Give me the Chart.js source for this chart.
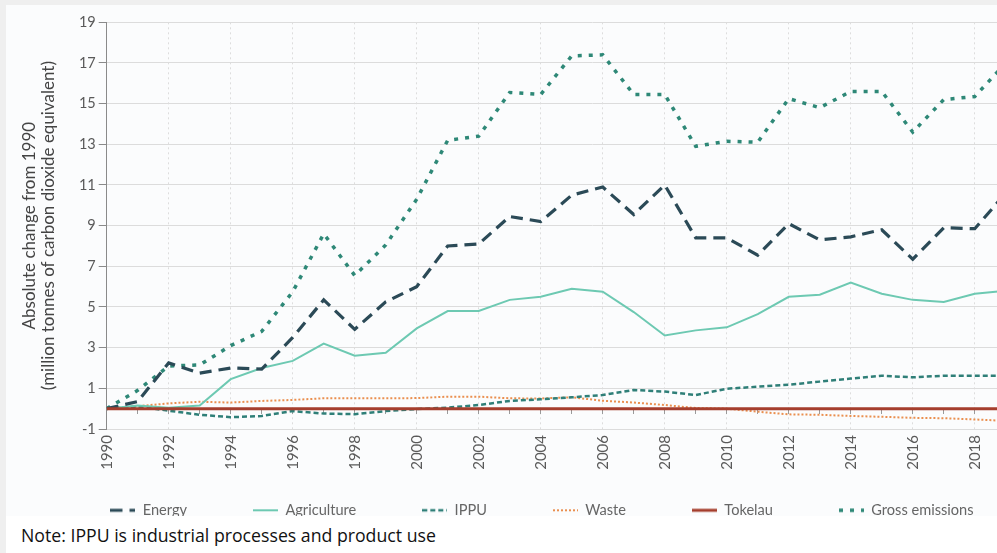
<!DOCTYPE html>
<html>
<head>
<meta charset="utf-8">
<script src="https://cdn.jsdelivr.net/npm/chart.js@4.4.1/dist/chart.umd.min.js"></script>
<style>
html,body{margin:0;padding:0;width:997px;height:553px;overflow:hidden;background:#ffffff;}
#frameTop{position:absolute;left:0;top:0;width:997px;height:5px;background:#efefef;}
#frameLeft{position:absolute;left:0;top:0;width:6px;height:553px;background:#efefef;}
#panel{position:absolute;left:6px;top:5px;width:991px;height:511px;background:#fbfcfd;overflow:hidden;}
#chart{position:absolute;left:0;top:0;}
#note{position:absolute;left:21px;top:524px;font-family:"Open Sans";font-size:17.7px;line-height:23px;color:#111;white-space:nowrap;}
</style>
</head>
<body>
<div id="frameTop"></div>
<div id="frameLeft"></div>
<div id="panel"><canvas id="chart" width="1072" height="565"></canvas></div>
<div id="note">Note: IPPU is industrial processes and product use</div>
<script>
// Years (x categories)
const years = [1990,1991,1992,1993,1994,1995,1996,1997,1998,1999,2000,2001,2002,2003,2004,2005,2006,2007,2008,2009,2010,2011,2012,2013,2014,2015,2016,2017,2018,2019];

// Series values: absolute change from 1990 (Mt CO2-e)
const energy      = [0, 0.35, 2.25, 1.75, 2.0, 1.95, 3.5, 5.35, 3.9, 5.25, 6.0, 8.0, 8.1, 9.45, 9.2, 10.5, 10.9, 9.55, 11.0, 8.4, 8.4, 7.55, 9.1, 8.3, 8.45, 8.8, 7.35, 8.9, 8.85, 10.6];
const agriculture = [0, 0.15, 0.05, 0.15, 1.45, 2.0, 2.35, 3.2, 2.6, 2.75, 3.95, 4.8, 4.8, 5.35, 5.5, 5.9, 5.75, 4.75, 3.6, 3.85, 4.0, 4.65, 5.5, 5.6, 6.2, 5.65, 5.35, 5.25, 5.65, 5.8];
const ippu        = [0, 0.1, -0.1, -0.3, -0.42, -0.36, -0.12, -0.24, -0.27, -0.12, -0.02, 0.05, 0.18, 0.38, 0.46, 0.56, 0.67, 0.92, 0.84, 0.67, 0.98, 1.08, 1.18, 1.33, 1.48, 1.62, 1.54, 1.62, 1.62, 1.62];
const waste       = [0, 0.12, 0.26, 0.34, 0.3, 0.38, 0.43, 0.51, 0.51, 0.51, 0.52, 0.59, 0.59, 0.51, 0.5, 0.56, 0.39, 0.3, 0.18, 0.03, 0.0, -0.15, -0.28, -0.3, -0.36, -0.4, -0.45, -0.47, -0.53, -0.6];
const tokelau     = [0, 0, 0, 0, 0, 0, 0, 0, 0, 0, 0, 0, 0, 0, 0, 0, 0, 0, 0, 0, 0, 0, 0, 0, 0, 0, 0, 0, 0, 0];
const gross       = [0, 0.9, 2.1, 2.15, 3.1, 3.8, 5.75, 8.6, 6.55, 8.05, 10.3, 13.2, 13.4, 15.55, 15.45, 17.35, 17.4, 15.45, 15.45, 12.9, 13.15, 13.1, 15.25, 14.8, 15.6, 15.6, 13.6, 15.2, 15.35, 17.0];

// Axis tick settings
const yMin = -1, yMax = 19, yStep = 2;
const xMin = 1990, xStep = 2;
const yTitle = ['Absolute change from 1990', '(million tonnes of carbon dioxide equivalent)'];

// Layout (canvas is wider than the visible panel; the reference is cropped on the right)
const xMax = 2021.33;
const legendItemGap = 74; // px from plot bottom to legend row top

Chart.defaults.font.family = 'Lato';

// Small legend swatch drawn with the same stroke style as the series line
function swatch(color, width, dash) {
  const c = document.createElement('canvas');
  c.width = 25; c.height = 8;
  const g = c.getContext('2d');
  g.strokeStyle = color; g.lineWidth = width; g.setLineDash(dash || []);
  g.beginPath(); g.moveTo(0, 4); g.lineTo(25, 4); g.stroke();
  return c;
}

const pts = (vals) => vals.map((v, i) => ({x: years[i], y: v}));
const makeDs = (label, vals, style) => Object.assign({
  label: label, data: pts(vals), fill: false, tension: 0,
  pointRadius: 0, pointHoverRadius: 0,
  pointStyle: swatch(style.borderColor, style.borderWidth, style.borderDash)
}, style);

const datasets = [
  makeDs('Energy', energy, {borderColor: '#2b4a57', borderWidth: 3.2, borderDash: [12, 7]}),
  makeDs('Agriculture', agriculture, {borderColor: '#6dc9b2', borderWidth: 2}),
  makeDs('IPPU', ippu, {borderColor: '#2f7f78', borderWidth: 2.5, borderDash: [5, 3]}),
  makeDs('Waste', waste, {borderColor: '#ea8f4f', borderWidth: 2, borderDash: [2, 2]}),
  makeDs('Tokelau', tokelau, {borderColor: '#a53e2d', borderWidth: 3, order: -1}),
  makeDs('Gross emissions', gross, {borderColor: '#2e8877', borderWidth: 3.5, borderDash: [4, 7]})
];

// Moves the legend row up so it sits just under the rotated year labels
const legendShift = {
  id: 'legendShift',
  afterLayout(chart) {
    const lg = chart.legend;
    if (!lg) return;
    const pad = lg.options.labels.padding;
    const desiredTop = chart.chartArea.bottom + legendItemGap - pad;
    const dy = lg.top - desiredTop;
    lg.top -= dy;
    lg.bottom -= dy;
  }
};

new Chart(document.getElementById('chart'), {
  type: 'line',
  data: {datasets: datasets},
  plugins: [legendShift],
  options: {
    responsive: false,
    animation: false,
    devicePixelRatio: 1,
    layout: {padding: {top: 17.3, left: 0, right: 0, bottom: 0}},
    plugins: {
      legend: {
        position: 'bottom',
        labels: {
          usePointStyle: true, pointStyleWidth: 25,
          padding: 66, color: '#666666', font: {family: 'Lato', size: 14.6},
          sort: (a, b) => a.datasetIndex - b.datasetIndex
        }
      },
      tooltip: {enabled: false}
    },
    scales: {
      x: {
        type: 'linear', position: 'bottom', min: xMin, max: xMax,
        afterFit: (s) => { s.height = 50.4; },
        border: {display: false, dash: [2, 3]},
        grid: {color: '#dddddd', drawTicks: false},
        ticks: {
          stepSize: xStep, includeBounds: false, autoSkip: false,
          minRotation: 90, maxRotation: 90, padding: 6,
          color: '#5a5a5a', font: {family: 'Lato', size: 15},
          callback: (v) => String(v)
        }
      },
      x2: {
        type: 'linear', axis: 'x', position: {y: 0}, min: xMin, max: xMax,
        border: {display: false},
        grid: {drawOnChartArea: false, drawTicks: true, tickLength: 5, tickColor: '#9a9a9a'},
        ticks: {display: false, stepSize: 1, includeBounds: false}
      },
      y: {
        min: yMin, max: yMax,
        afterFit: (s) => { s.width = 100.7; },
        border: {display: true, color: '#8a8a8a'},
        grid: {color: '#dcdcdc', tickColor: '#8a8a8a', tickLength: 8},
        ticks: {stepSize: yStep, padding: 3, color: '#5a5a5a', font: {family: 'Lato', size: 14.5}},
        title: {
          display: true, text: yTitle, color: '#444444',
          font: {family: 'Lato', size: 17, lineHeight: 1.1},
          padding: {top: 14.65, bottom: 0}
        }
      }
    }
  }
});
</script>
</body>
</html>
